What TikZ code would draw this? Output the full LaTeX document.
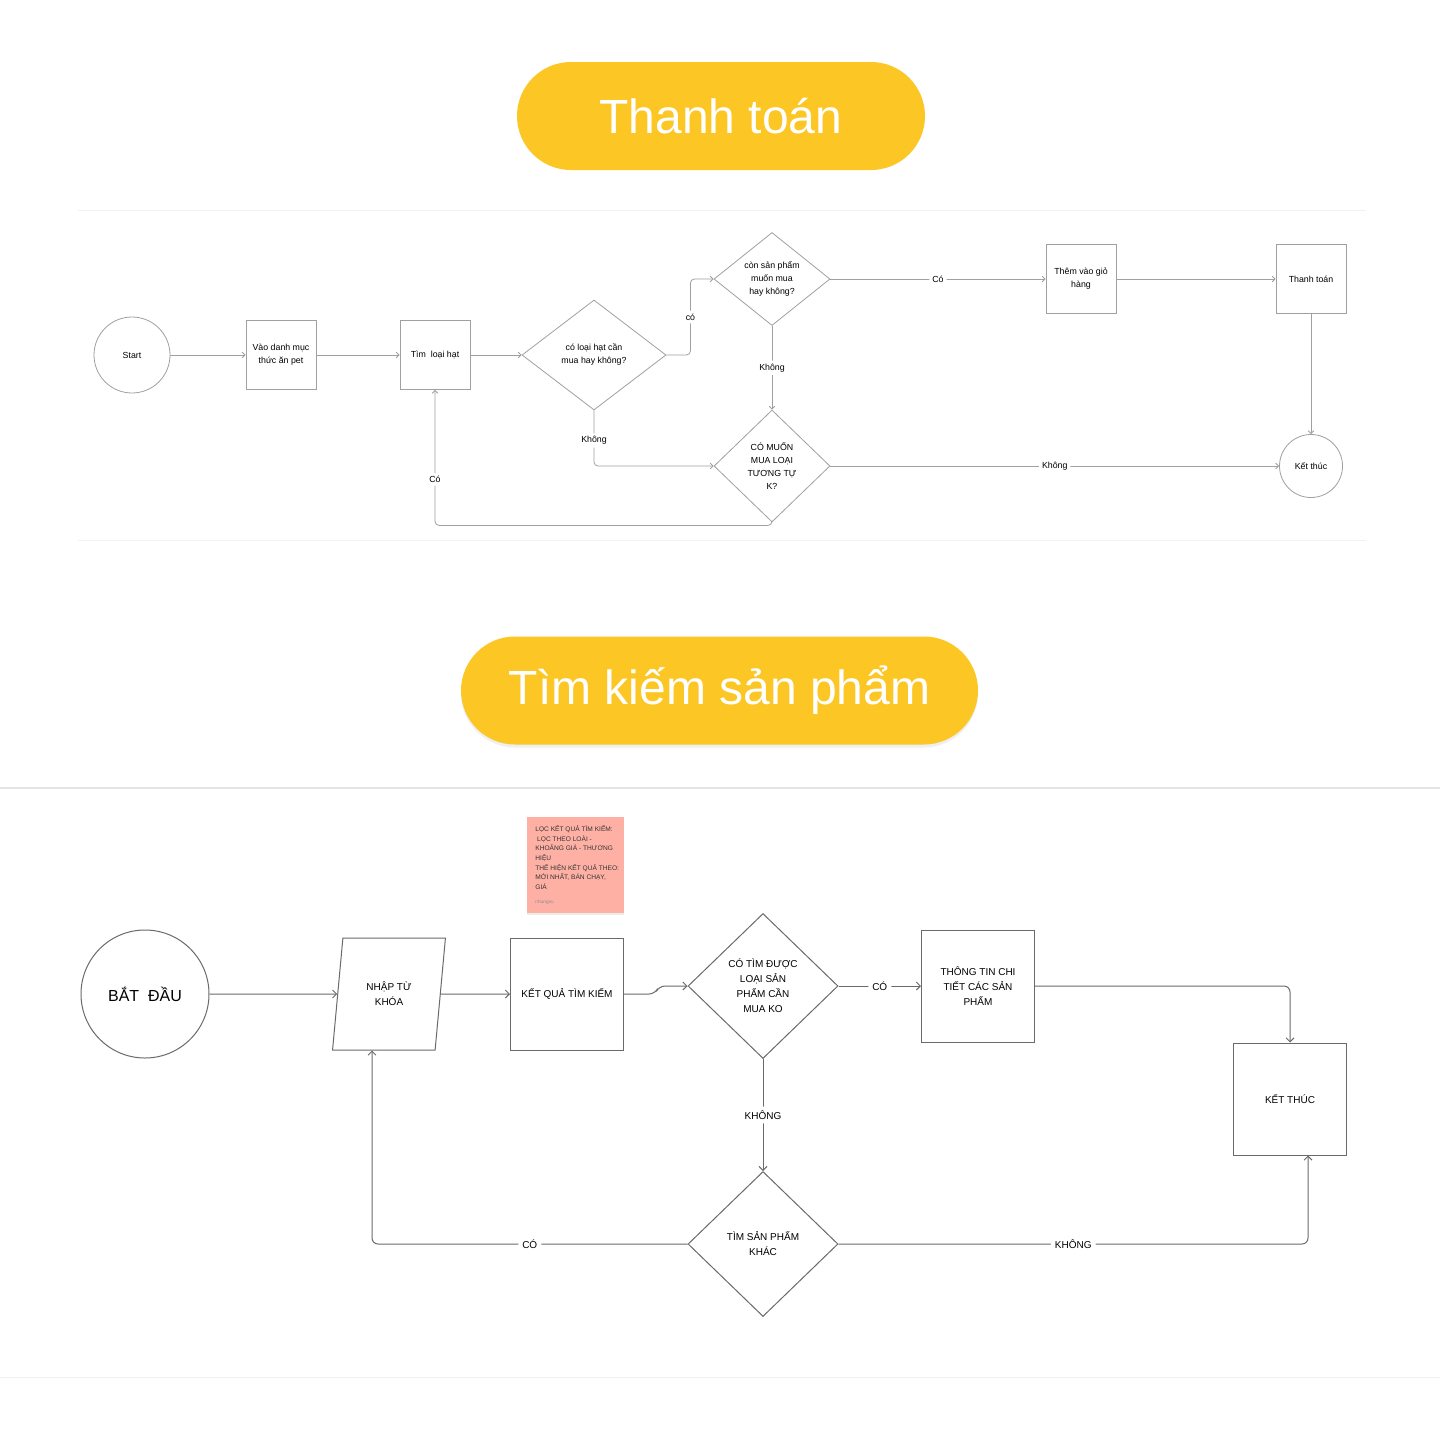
\documentclass[tikz,border=0pt]{standalone}
\usepackage{fontspec}
\setmainfont{Liberation Sans}
\usetikzlibrary{arrows.meta,positioning,shapes.geometric,shadows}
\definecolor{pillyellow}{HTML}{FCC624}
\definecolor{sticky}{HTML}{FFB0A5}
\definecolor{lineA}{HTML}{A0A0A0}
\definecolor{lineB}{HTML}{6A6A6A}
\begin{document}
\begin{tikzpicture}[x=0.5pt, y=-0.5pt,
		pill/.style={fill=pillyellow, rounded corners=27pt, minimum height=54pt, text=white, font=\fontsize{24}{28}\selectfont},
		boxA/.style={draw=lineA, line width=0.4pt, minimum width=35pt, minimum height=34.5pt, inner sep=0pt, align=center, font=\fontsize{4.4}{6.5}\selectfont},
		roundA/.style={boxA, circle},
		diaA/.style={boxA, diamond},
		flowA/.style={draw=lineA, line width=0.4pt, -{Straight Barb[length=1.4pt,width=2.8pt]}, rounded corners=2pt},
		lblA/.style={fill=white, inner sep=1.5pt, font=\fontsize{4.4}{5}\selectfont},
		boxB/.style={draw=lineB, line width=0.5pt, minimum width=56.5pt, minimum height=56pt, inner sep=0pt, align=center, font=\fontsize{5}{7.5}\selectfont},
		diaB/.style={boxB, diamond, minimum width=75pt, minimum height=72.5pt},
		flowB/.style={draw=lineB, line width=0.5pt, -{Straight Barb[length=2pt,width=4pt]}, rounded corners=3pt},
		lblB/.style={fill=white, inner sep=2pt, font=\fontsize{5}{6}\selectfont},
	]
	\fill[white] (0,0) rectangle (1440,1440);
	\useasboundingbox (0,0) rectangle (1440,1440);

	\draw[black!5, line width=0.5pt] (78,210) -- (1366,210);
	\draw[black!5, line width=0.5pt] (78,540) -- (1366,540);
	\draw[black!10, line width=0.6pt] (0,788) -- (1440,788);
	\draw[black!6, line width=0.5pt] (0,1377) -- (1440,1377);

	\node[pill, minimum width=204pt] (t1) at (721,116) {Thanh toán};
	\node[pill, minimum width=258.5pt, drop shadow={opacity=0.12, shadow xshift=0pt, shadow yshift=-1.5pt}] (t2) at (719.5,690.5) {Tìm kiếm sản phẩm};

	\node[roundA, minimum size=38pt] (start) at (132,355) {Start};
	\node[boxA] (vao) at (281,355) {Vào danh mục\\thức ăn pet};
	\node[boxA] (tim) at (435,355) {Tìm\ \ loại hạt};
	\node[diaA, minimum width=72pt, minimum height=55pt] (hat) at (594,355) {có loại hạt cần\\mua hay không?};
	\node[diaA, minimum width=58pt, minimum height=46.5pt] (con) at (772,279) {còn sản phẩm\\muốn mua\\hay không?};
	\node[diaA, minimum width=58pt, minimum height=56pt] (tuongtu) at (772,466) {CÓ MUỐN\\MUA LOẠI\\TƯƠNG TỰ\\K?};
	\node[boxA] (gio) at (1081,279) {Thêm vào giỏ\\hàng};
	\node[boxA] (thanh) at (1311,279) {Thanh toán};
	\node[roundA, minimum size=31.5pt] (ketA) at (1311,466) {Kết thúc};

	\draw[flowA] (start) -- (vao);
	\draw[flowA] (vao) -- (tim);
	\draw[flowA] (tim) -- (hat.west);
	\draw[flowA] (hat.east) -- ++(24,0) |- node[lblA, pos=0.25] {có} (con.west);
	\draw[flowA] (con.east) -- node[lblA] {Có} (gio);
	\draw[flowA] (gio) -- (thanh);
	\draw[flowA] (thanh) -- (ketA);
	\draw[flowA] (con.south) -- node[lblA] {Không} (tuongtu.north);
	\draw[flowA] (hat.south) |- node[lblA, pos=0.27] {Không} (tuongtu.west);
	\draw[flowA] (tuongtu.east) -- node[lblA] {Không} (ketA);
	\draw[flowA] (tuongtu.south) -- ++(0,3) -| node[lblA, pos=0.67] {Có} (tim.south);

	\node[fill=sticky, minimum width=48.5pt, minimum height=48pt, drop shadow={opacity=0.15, shadow xshift=0pt, shadow yshift=-1pt}] (note) at (575.5,865) {};
	\node[anchor=north west, align=left, inner sep=0pt, font=\fontsize{3.3}{4.85}\selectfont, text=black!80] (notetxt) at (535,825) {LỌC KẾT QUẢ TÌM KIẾM:\\\ LỌC THEO LOÀI -\\KHOẢNG GIÁ - THƯƠNG\\HIỆU\\THỂ HIỆN KẾT QUẢ THEO:\\MỚI NHẤT, BÁN CHẠY,\\GIÁ};
	\node[anchor=west, inner sep=0pt, font=\fontsize{2.4}{3}\selectfont, text=black!45] (author) at (535,902) {nhungvu};

	\node[boxB, circle, minimum size=64pt, font=\fontsize{8}{10}\selectfont] (batdau) at (145,994) {BẮT\ \ ĐẦU};
	\node[boxB, trapezium, trapezium left angle=78, trapezium right angle=102, trapezium stretches=true, minimum width=56.5pt] (nhap) at (389,994) {NHẬP TỪ\\KHÓA};
	\node[boxB] (ketqua) at (567,994) {KẾT QUẢ TÌM KIẾM};
	\node[diaB] (timduoc) at (763,986) {CÓ TÌM ĐƯỢC\\LOẠI SẢN\\PHẨM CẦN\\MUA KO};
	\node[boxB] (chitiet) at (978,986) {THÔNG TIN CHI\\TIẾT CÁC SẢN\\PHẨM};
	\node[boxB] (ketB) at (1290,1099) {KẾT THÚC};
	\node[diaB] (khac) at (763,1244) {TÌM SẢN PHẨM\\KHÁC};

	\draw[flowB] (batdau) -- (nhap.west);
	\draw[flowB] (nhap.east) -- (ketqua);
	\draw[flowB] (ketqua.east) -- ++(31,0) -- ++(4,-8) -- (timduoc.west);
	\draw[flowB] (timduoc.east) -- node[lblB] {CÓ} (chitiet);
	\draw[flowB] (chitiet.east) -| (ketB.north);
	\draw[flowB] (timduoc.south) -- node[lblB] {KHÔNG} (khac.north);
	\draw[flowB] (khac.west) -| node[lblB, pos=0.25] {CÓ} ([xshift=-8.5pt]nhap.south);
	\draw[flowB] (khac.east) -| node[lblB, pos=0.25] {KHÔNG} ([xshift=9pt]ketB.south);
\end{tikzpicture}
\end{document}
